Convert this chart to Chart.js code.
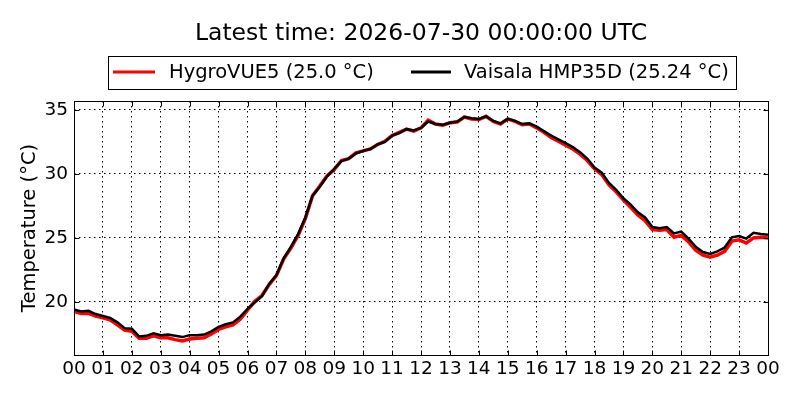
<!DOCTYPE html>
<html>
<head>
<meta charset="utf-8">
<script src="https://cdn.jsdelivr.net/npm/chart.js@4.4.1/dist/chart.umd.min.js"></script>
<style>
    html, body { margin: 0; padding: 0; background: #fff; }
    #khung { width: 800px; height: 400px; }
</style>
</head>
<body>
<div id="khung"><canvas id="bieuDoNhietDo" width="800" height="400"></canvas></div>
<script>
// tieu de + nhan
const titleText = "Latest time: 2026-07-30 00:00:00 UTC";
const yAxisTitle = "Temperature (°C)";
const hourLabels = ["00", "01", "02", "03", "04", "05", "06", "07", "08", "09", "10", "11",
    "12", "13", "14", "15", "16", "17", "18", "19", "20", "21", "22", "23", "00"];
const yTicks = [20, 25, 30, 35];
const seriesNames = ["HygroVUE5 (25.0 °C)", "Vaisala HMP35D (25.24 °C)"];

// gia tri moi 15 phut, tu 00:00 den 24:00
const hygroVue = [
    19.25, 19.1, 19.1, 18.9, 18.75, 18.6, 18.2, 17.8,
    17.7, 17.15, 17.15, 17.35, 17.2, 17.2, 17.05, 16.95,
    17.1, 17.15, 17.2, 17.5, 17.85, 18.05, 18.2, 18.65,
    19.35, 20.05, 20.5, 21.35, 22.05, 23.35, 24.2, 25.2,
    26.5, 28.3, 29.05, 29.85, 30.35, 31.05, 31.2, 31.65,
    31.8, 31.95, 32.3, 32.55, 33.0, 33.25, 33.5, 33.35,
    33.6, 34.2, 33.9, 33.8, 34.0, 34.05, 34.45, 34.3,
    34.25, 34.5, 34.1, 33.9, 34.3, 34.1, 33.85, 33.9,
    33.6, 33.25, 32.85, 32.55, 32.25, 31.95, 31.55, 31.05,
    30.4, 29.95, 29.15, 28.6, 27.95, 27.4, 26.8, 26.35,
    25.65, 25.6, 25.65, 25.05, 25.2, 24.7, 24.05, 23.65,
    23.5, 23.65, 23.95, 24.75, 24.85, 24.6, 25.0, 25.05,
    25.0
];
const vaisala = [
    19.4, 19.25, 19.3, 19.05, 18.9, 18.75, 18.4, 17.95,
    17.9, 17.3, 17.35, 17.55, 17.4, 17.45, 17.35, 17.25,
    17.4, 17.4, 17.45, 17.7, 18.05, 18.25, 18.4, 18.85,
    19.45, 19.95, 20.45, 21.4, 22.1, 23.4, 24.3, 25.3,
    26.6, 28.3, 29.0, 29.8, 30.4, 31.0, 31.2, 31.6,
    31.8, 31.95, 32.3, 32.5, 33.0, 33.2, 33.5, 33.4,
    33.6, 34.1, 33.9, 33.85, 34.0, 34.1, 34.45, 34.35,
    34.3, 34.5, 34.15, 33.95, 34.3, 34.15, 33.9, 33.95,
    33.7, 33.35, 33.0, 32.7, 32.4, 32.1, 31.7, 31.2,
    30.5, 30.1, 29.3, 28.75, 28.1, 27.6, 27.0, 26.6,
    25.85, 25.75, 25.85, 25.35, 25.5, 24.95, 24.3, 23.9,
    23.75, 23.95, 24.25, 25.05, 25.15, 24.95, 25.4, 25.3,
    25.24
];

const FONT = '"DejaVu Sans", sans-serif';

function toPoints(values) {
    return values.map((v, i) => ({ x: i / 4, y: v }));
}

// ve khung, vach chia vao trong, tieu de va chu thich
const khungPlugin = {
    id: "khung",
    afterDraw(chart) {
        const ctx = chart.ctx;
        const a = chart.chartArea;
        const xs = chart.scales.x;
        const ys = chart.scales.y;
        const L = Math.round(a.left) + 0.5;
        const R = Math.round(a.right) + 0.5;
        const T = Math.round(a.top) + 0.5;
        const B = Math.round(a.bottom) + 0.5;

        ctx.save();
        ctx.strokeStyle = "#000";
        ctx.lineWidth = 1;
        ctx.strokeRect(L, T, R - L, B - T);

        ctx.beginPath();
        hourLabels.forEach((_, i) => {
            const px = Math.round(xs.getPixelForValue(i)) + 0.5;
            ctx.moveTo(px, B); ctx.lineTo(px, B - 5);
            ctx.moveTo(px, T); ctx.lineTo(px, T + 5);
        });
        yTicks.forEach((v) => {
            const py = Math.round(ys.getPixelForValue(v)) + 0.5;
            ctx.moveTo(L, py); ctx.lineTo(L + 5, py);
            ctx.moveTo(R, py); ctx.lineTo(R - 5, py);
        });
        ctx.stroke();

        // tieu de
        ctx.fillStyle = "#000";
        ctx.font = "23.5px " + FONT;
        ctx.textAlign = "center";
        ctx.textBaseline = "middle";
        ctx.fillText(titleText, (a.left + a.right) / 2, 34);

        // chu thich
        ctx.strokeRect(108.5, 56.5, 628, 33);
        ctx.font = "19.5px " + FONT;
        ctx.textAlign = "left";
        const items = [
            { x1: 113, x2: 155, tx: 169 },
            { x1: 411, x2: 451, tx: 464 },
        ];
        chart.data.datasets.forEach((ds, i) => {
            ctx.beginPath();
            ctx.strokeStyle = ds.borderColor;
            ctx.lineWidth = 3;
            ctx.moveTo(items[i].x1, 72);
            ctx.lineTo(items[i].x2, 72);
            ctx.stroke();
            ctx.fillText(ds.label, items[i].tx, 73);
        });
        ctx.restore();
    },
};

function veBieuDo() {
    const ctx = document.getElementById("bieuDoNhietDo").getContext("2d");

    new Chart(ctx, {
        type: "line",
        data: {
            datasets: [
                {
                    label: seriesNames[0],
                    data: toPoints(hygroVue),
                    borderColor: "#ff0000",
                    backgroundColor: "#ff0000",
                    borderWidth: 3.5,
                    pointRadius: 0,
                    order: 1,
                },
                {
                    label: seriesNames[1],
                    data: toPoints(vaisala),
                    borderColor: "#000000",
                    backgroundColor: "#000000",
                    borderWidth: 2.5,
                    pointRadius: 0,
                    order: 0,
                },
            ],
        },
        options: {
            responsive: false,
            animation: false,
            devicePixelRatio: 1,
            layout: {
                padding: { top: 101, right: 32, left: 0, bottom: 0 },
            },
            plugins: {
                legend: { display: false },
                title: { display: false },
                tooltip: { enabled: false },
            },
            scales: {
                x: {
                    type: "linear",
                    min: 0,
                    max: 24,
                    afterBuildTicks: (scale) => {
                        scale.ticks = hourLabels.map((_, i) => ({ value: i }));
                    },
                    afterFit: (scale) => {
                        scale.height = 45;
                    },
                    ticks: {
                        autoSkip: false,
                        maxRotation: 0,
                        minRotation: 0,
                        padding: 3,
                        color: "#000",
                        font: { family: FONT, size: 18.5 },
                        callback: (v, i) => hourLabels[i],
                    },
                    grid: { color: "#000", lineWidth: 1, drawTicks: false },
                    border: { display: false, dash: [1.5, 3.5] },
                },
                y: {
                    min: 15.85,
                    max: 35.7,
                    afterBuildTicks: (scale) => {
                        scale.ticks = yTicks.map((v) => ({ value: v }));
                    },
                    afterFit: (scale) => {
                        scale.width = 74;
                    },
                    title: {
                        display: true,
                        text: yAxisTitle,
                        color: "#000",
                        font: { family: FONT, size: 19.5 },
                        padding: { top: 18, bottom: 0 },
                    },
                    ticks: {
                        padding: 6,
                        color: "#000",
                        font: { family: FONT, size: 18.5 },
                    },
                    grid: { color: "#000", lineWidth: 1, drawTicks: false },
                    border: { display: false, dash: [1.5, 3.5] },
                },
            },
        },
        plugins: [khungPlugin],
    });
}

veBieuDo();
</script>
</body>
</html>
